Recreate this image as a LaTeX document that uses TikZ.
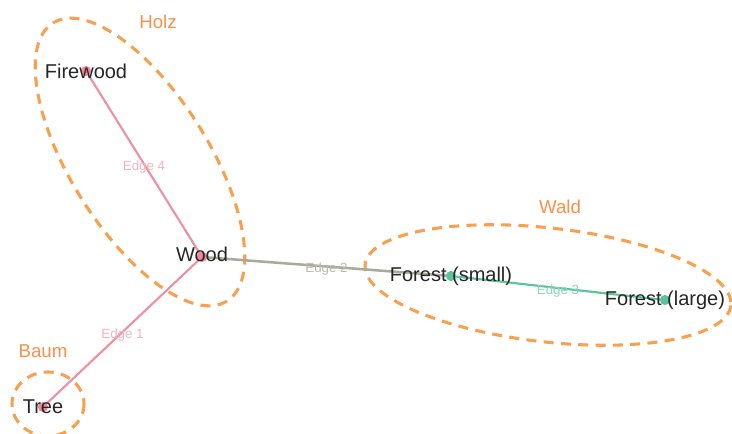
\documentclass[tikz,border=0pt]{standalone}
\usepackage{fontspec}
\setmainfont{Liberation Sans}
\usetikzlibrary{positioning}

\definecolor{grporange}{HTML}{F9A04E}
\definecolor{grptext}{HTML}{F5914A}
\definecolor{edgepink}{HTML}{EE8FA3}
\definecolor{edgegray}{HTML}{A9A99C}
\definecolor{edgegreen}{HTML}{5BC49B}

\begin{document}
\begin{tikzpicture}[x=0.75pt,y=-0.75pt,
  group/.style={draw=grporange, line width=2.3pt, dash pattern=on 7.5pt off 5.5pt},
  grouplbl/.style={text=grptext, font=\fontsize{14}{16}\selectfont},
  vdot/.style={circle, inner sep=0pt, minimum size=7.5pt},
  vtext/.style={font=\fontsize{15}{18}\selectfont, text=black!85},
  edgelbl/.style={font=\fontsize{10}{12}\selectfont, midway, yshift=-2.2pt}]
\useasboundingbox (0,0) rectangle (732,434);
% groups
\draw[group, shift={(140,162)}, rotate=-58] (0,0) ellipse [x radius=164, y radius=69];
\draw[group, shift={(548,285)}, rotate=-6.4] (0,0) ellipse [x radius=184, y radius=57];
\draw[group] (48,404) ellipse [x radius=36, y radius=32];
\node[grouplbl] (holz) at (158,22) {Holz};
\node[grouplbl] (wald) at (560,207) {Wald};
\node[grouplbl] (baum) at (43,351) {Baum};
% vertices
\node[vdot] (firewood) at (86,71) {};
\node[vdot] (wood) at (202,257) {};
\node[vdot] (tree) at (43,407) {};
\node[vdot] (forestS) at (451,276) {};
\node[vdot] (forestL) at (665,300) {};
% edges
\draw[edgepink, line width=1.6pt] (wood.center) -- (tree.center)
  node[edgelbl, text=edgepink!70] (e1) {Edge 1};
\draw[edgegray, line width=1.9pt] (wood.center) -- (forestS.center)
  node[edgelbl, text=edgegray!80] (e2) {Edge 2};
\draw[edgegreen, line width=1.6pt] (forestS.center) -- (forestL.center)
  node[edgelbl, text=edgegreen!70] (e3) {Edge 3};
\draw[edgepink, line width=1.6pt] (wood.center) -- (firewood.center)
  node[edgelbl, text=edgepink!70] (e4) {Edge 4};
\foreach \v in {firewood,wood,tree} {
  \fill[edgepink!95!red] (\v) circle [radius=3.8pt];
}
\foreach \v in {forestS,forestL} {
  \fill[edgegreen] (\v) circle [radius=3.8pt];
}
% names
\node[vtext] (firewoodtxt) at (firewood) {Firewood};
\node[vtext, yshift=2pt] (woodtxt) at (wood) {Wood};
\node[vtext] (treetxt) at (tree) {Tree};
\node[vtext] (forestStxt) at (forestS) {Forest (small)};
\node[vtext] (forestLtxt) at (forestL) {Forest (large)};
\end{tikzpicture}
\end{document}
